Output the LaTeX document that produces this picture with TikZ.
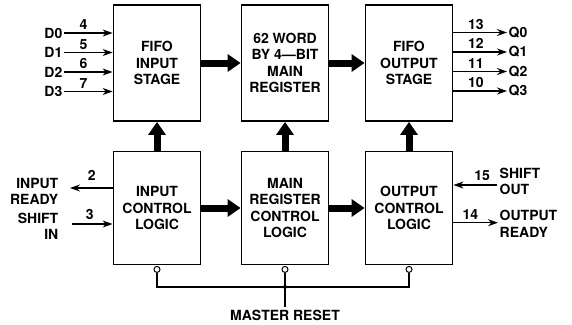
\documentclass[tikz,border=0pt]{standalone}
\usepackage{fontspec}
\setmainfont{TeX Gyre Heros}
\usetikzlibrary{arrows.meta, positioning, calc}
\newcommand{\fifofont}{\fontsize{14}{16.5}\selectfont\bfseries}
\tikzset{
	stage/.style={draw=black, line width=1.8pt, shape=rectangle, minimum width=87pt, minimum height=116pt, align=center, inner sep=0pt, font=\fifofont},
	logic/.style={stage, minimum height=113pt},
	pin/.style={font=\fifofont, inner sep=1.5pt},
	num/.style={font=\fifofont, inner sep=2.5pt},
	bus/.style={line width=7pt, -{Triangle[length=13pt, width=17pt]}},
	sig/.style={line width=1.2pt, -{Stealth[length=10pt, width=7pt]}},
	wire/.style={line width=1.2pt},
	bubble/.style={draw=black, line width=1pt, shape=circle, minimum size=6pt, inner sep=0pt, fill=white}
}
\begin{document}
\begin{tikzpicture}[x=1pt, y=-1pt]
	\useasboundingbox (0,0) rectangle (572,324);
	% data path
	\node (fin) [stage] at (157,63) {FIFO\\INPUT\\STAGE};
	\node (reg) [stage] at (285,63) {62 WORD\\BY 4\textemdash BIT\\MAIN\\REGISTER};
	\node (fout) [stage] at (409,63) {FIFO\\OUTPUT\\STAGE};
	
	% control
	\node (icl) [logic] at (157,208) {INPUT\\CONTROL\\LOGIC};
	\node (rcl) [logic] at (285,208) {MAIN\\REGISTER\\CONTROL\\LOGIC};
	\node (ocl) [logic] at (409,208) {OUTPUT\\CONTROL\\LOGIC};
	
	\draw[bus] (fin.east) -- (reg.west);
	\draw[bus] (reg.east) -- (fout.west);
	\draw[bus] (icl.east) -- (rcl.west);
	\draw[bus] (rcl.east) -- (ocl.west);
	\draw[bus] (icl.north) -- (fin.south);
	\draw[bus] (rcl.north) -- (reg.south);
	\draw[bus] (ocl.north) -- (fout.south);
	
	% data in
	\node (d0) [pin, anchor=east] at (64,33) {D0};
	\node (d1) [pin, anchor=east] at (64,52.5) {D1};
	\node (d2) [pin, anchor=east] at (64,72) {D2};
	\node (d3) [pin, anchor=east] at (64,91.5) {D3};
	\draw[sig] (d0) -- (d0 -| fin.west) node[num, pos=0.4, above] {4};
	\draw[sig] (d1) -- (d1 -| fin.west) node[num, pos=0.4, above] {5};
	\draw[sig] (d2) -- (d2 -| fin.west) node[num, pos=0.4, above] {6};
	\draw[sig] (d3) -- (d3 -| fin.west) node[num, pos=0.4, above] {7};
	
	% data out
	\node (q0) [pin, anchor=west] at (507,32.5) {Q0};
	\node (q1) [pin, anchor=west] at (507,52) {Q1};
	\node (q2) [pin, anchor=west] at (507,71.5) {Q2};
	\node (q3) [pin, anchor=west] at (507,91) {Q3};
	\draw[sig] (q0 -| fout.east) -- (q0) node[num, pos=0.42, above] {13};
	\draw[sig] (q1 -| fout.east) -- (q1) node[num, pos=0.42, above] {12};
	\draw[sig] (q2 -| fout.east) -- (q2) node[num, pos=0.42, above] {11};
	\draw[sig] (q3 -| fout.east) -- (q3) node[num, pos=0.42, above] {10};
	
	% handshake
	\coordinate (irdy) at (70,188);
	\node (irdylbl) [pin, align=right, anchor=east] at (60,191.5) {INPUT\\READY};
	\draw[sig] (irdy -| icl.west) -- (irdy) node[num, pos=0.49, above, yshift=4pt] {2};
	\coordinate (sin) at (72,224);
	\node (sinlbl) [pin, align=right, anchor=east] at (60,226.5) {SHIFT\\IN};
	\draw[sig] (sin) -- (sin -| icl.west) node[num, pos=0.44, above, yshift=1pt] {3};
	\coordinate (sout) at (497,185);
	\node (soutlbl) [pin, align=left, anchor=west] at (498,181.5) {SHIFT\\OUT};
	\draw[sig] (sout) -- (sout -| ocl.east) node[num, pos=0.34, above, yshift=1pt] {15};
	\coordinate (ordy) at (498,222.7);
	\node (ordylbl) [pin, align=left, anchor=west] at (498,224) {OUTPUT\\READY};
	\draw[sig] (ordy -| ocl.east) -- (ordy) node[num, pos=0.38, above] {14};
	
	% reset
	\node (bi) [bubble, anchor=north] at ($(icl.south)+(0,0.5)$) {};
	\node (bm) [bubble, anchor=north] at ($(rcl.south)+(0,0.5)$) {};
	\node (bo) [bubble, anchor=north] at ($(ocl.south)+(0,0.5)$) {};
	\coordinate (mr) at (285,287);
	\node (mrlbl) [pin, inner sep=3pt] at (285,315) {MASTER RESET};
	\draw[wire] (bi) |- (bo |- mr) -- (bo);
	\draw[wire] (bm) -- (mrlbl);
	\fill (mr) circle (2pt);
\end{tikzpicture}
\end{document}
